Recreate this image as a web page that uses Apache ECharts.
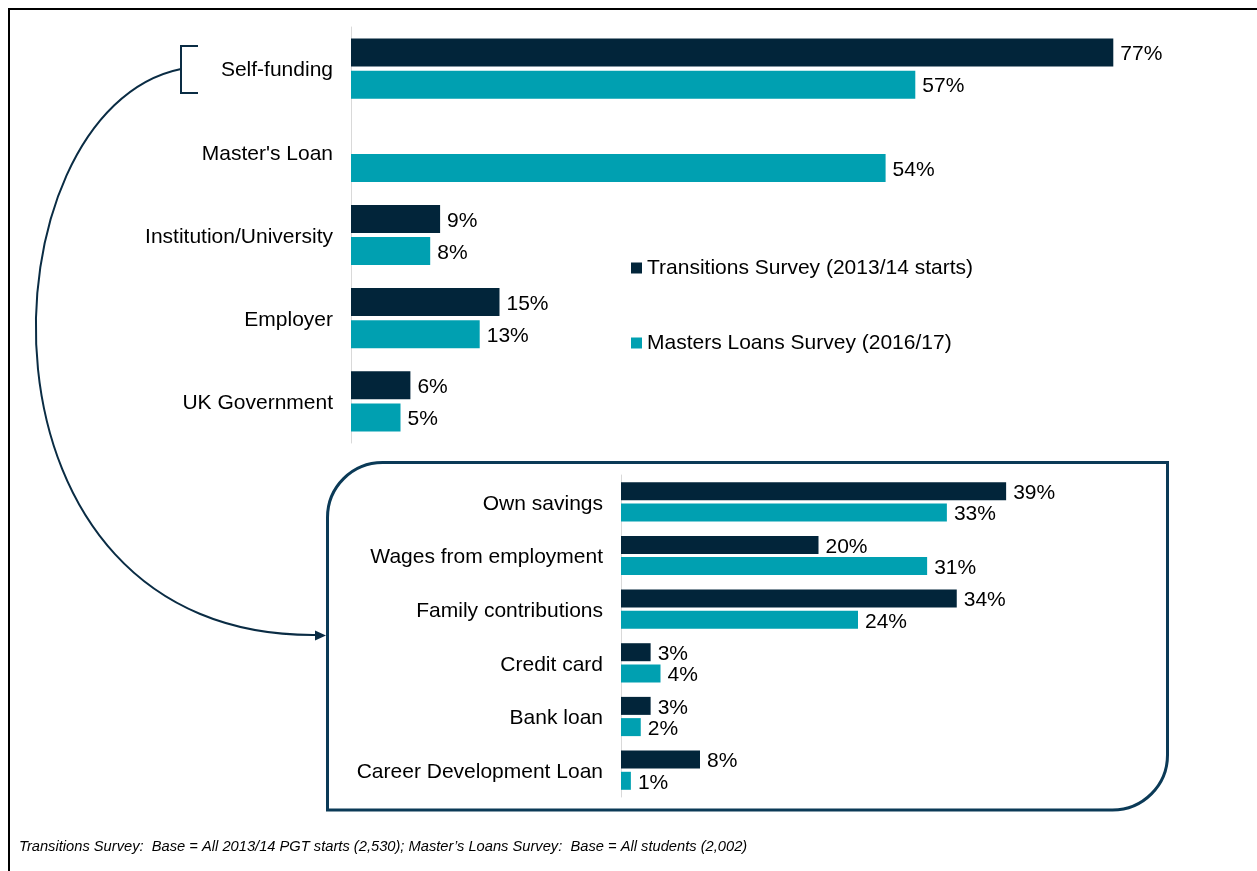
<!DOCTYPE html>
<html>
<head>
<meta charset="utf-8">
<script src="https://cdn.jsdelivr.net/npm/echarts@6/dist/echarts.min.js"></script>
<style>html,body{margin:0;padding:0;background:#fff}#c{width:1257px;height:871px}</style>
</head>
<body>
<div id="c"></div>
<script>
var seriesNames = ['Transitions Survey (2013/14 starts)', 'Masters Loans Survey (2016/17)'];
var topCategories = ['Self-funding', "Master's Loan", 'Institution/University', 'Employer', 'UK Government'];
var topTransitions = [77, null, 9, 15, 6];
var topMasters = [57, 54, 8, 13, 5];
var subCategories = ['Own savings', 'Wages from employment', 'Family contributions', 'Credit card', 'Bank loan', 'Career Development Loan'];
var subTransitions = [39, 20, 34, 3, 3, 8];
var subMasters = [33, 31, 24, 4, 2, 1];
var footnote = 'Transitions Survey:  Base = All 2013/14 PGT starts (2,530); Master\u2019s Loans Survey:  Base = All students (2,002)';

var DARK = '#02253a', TEAL = '#00a0b1', LINE = '#0b3a57', NAVY = '#0a2c44';
var FONT = '"Liberation Sans", Arial, sans-serif';
var FS = 21;

var chart = echarts.init(document.getElementById('c'));
function catAxis(idx, data) {
  return {
    type: 'category', gridIndex: idx, data: data, inverse: true,
    axisLine: {show: true, lineStyle: {color: '#d9d9d9', width: 1}},
    axisTick: {show: false},
    axisLabel: {
      margin: 18, formatter: '{v|{value}}',
      rich: {v: {fontSize: FS, color: '#000', fontFamily: FONT, padding: [4, 0, 0, 0]}}
    }
  };
}
function valLabel() {
  return {show: true, position: 'right', distance: 7, offset: [0, 2], formatter: '{c}%', fontSize: FS, color: '#000', fontFamily: FONT};
}
chart.setOption({
  animation: false,
  textStyle: {fontFamily: FONT},
  grid: [
    {left: 351, top: 27, width: 792, height: 416},
    {left: 621, top: 475, width: 395, height: 322}
  ],
  xAxis: [
    {type: 'value', gridIndex: 0, min: 0, max: 80, show: false},
    {type: 'value', gridIndex: 1, min: 0, max: 40, show: false}
  ],
  yAxis: [catAxis(0, topCategories), catAxis(1, subCategories)],
  legend: {
    orient: 'vertical', left: 626, top: 251, itemWidth: 11, itemHeight: 11, itemGap: 51,
    icon: 'rect', data: seriesNames,
    textStyle: {fontSize: FS, color: '#000', fontFamily: FONT, lineHeight: 24}
  },
  title: {
    text: footnote, left: 14, top: 834,
    textStyle: {fontSize: 14.7, fontStyle: 'italic', fontWeight: 'normal', color: '#000', fontFamily: FONT}
  },
  series: [
    {name: seriesNames[0], type: 'bar', xAxisIndex: 0, yAxisIndex: 0, data: topTransitions, barWidth: 28, barGap: '15%', itemStyle: {color: DARK}, label: valLabel()},
    {name: seriesNames[1], type: 'bar', xAxisIndex: 0, yAxisIndex: 0, data: topMasters, barWidth: 28, barGap: '15%', itemStyle: {color: TEAL}, label: valLabel()},
    {name: seriesNames[0], type: 'bar', xAxisIndex: 1, yAxisIndex: 1, data: subTransitions, barWidth: 18, barGap: '18%', itemStyle: {color: DARK}, label: valLabel()},
    {name: seriesNames[1], type: 'bar', xAxisIndex: 1, yAxisIndex: 1, data: subMasters, barWidth: 18, barGap: '18%', itemStyle: {color: TEAL}, label: valLabel()}
  ],
  graphic: [
    {type: 'rect', shape: {x: 9, y: 9, width: 1400, height: 1000}, style: {fill: 'none', stroke: '#000', lineWidth: 2}, silent: true},
    {type: 'rect', shape: {x: 327.5, y: 462.5, width: 840, height: 347.5, r: [55, 0, 55, 0]}, style: {fill: 'none', stroke: LINE, lineWidth: 3}, silent: true},
    {type: 'polyline', shape: {points: [[198, 46], [181, 46], [181, 93], [198, 93]]}, style: {fill: 'none', stroke: NAVY, lineWidth: 2}, silent: true},
    {type: 'bezierCurve', shape: {x1: 181, y1: 69, cpx1: -20, cpy1: 110, cpx2: -45, cpy2: 640, x2: 318, y2: 635}, style: {fill: 'none', stroke: NAVY, lineWidth: 2}, silent: true},
    {type: 'polygon', shape: {points: [[315, 630.5], [326, 635.5], [315, 640.5]]}, style: {fill: NAVY}, silent: true}
  ]
});
</script>
</body>
</html>
